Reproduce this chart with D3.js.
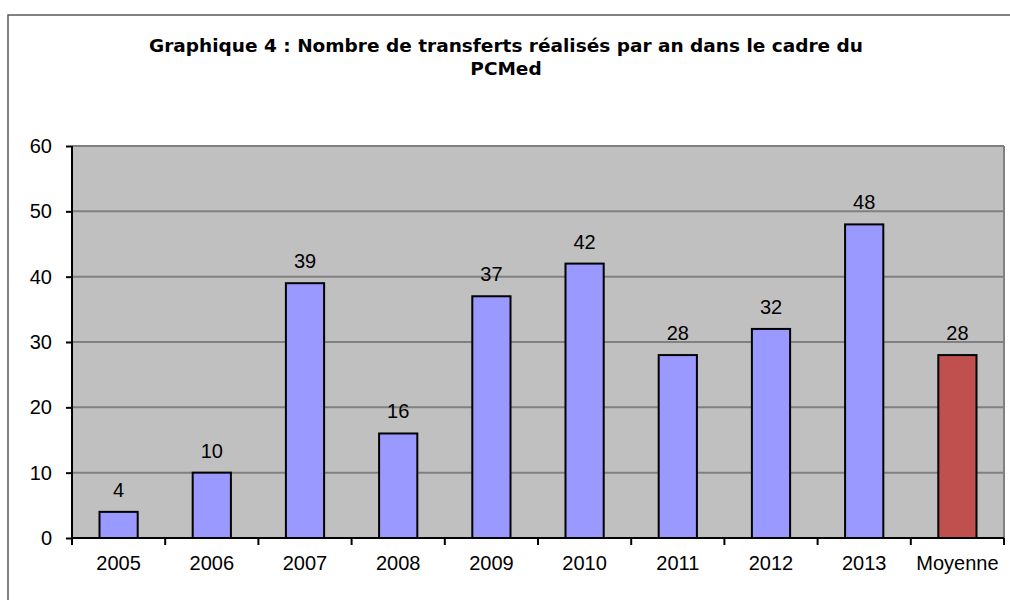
<!DOCTYPE html>
<html>
<head>
<meta charset="utf-8">
<script src="https://cdn.jsdelivr.net/npm/d3@7"></script>
<style>
  body { margin: 0; background: #fff; }
  svg { display: block; }
</style>
</head>
<body>
<div id="chart"></div>
<script>
const categories = ["2005", "2006", "2007", "2008", "2009", "2010", "2011", "2012", "2013", "Moyenne"];
const values = [4, 10, 39, 16, 37, 42, 28, 32, 48, 28];
const barColors = ["#9999ff", "#9999ff", "#9999ff", "#9999ff", "#9999ff", "#9999ff", "#9999ff", "#9999ff", "#9999ff", "#c0504d"];
const yTicks = [0, 10, 20, 30, 40, 50, 60];
const titleLines = ["Graphique 4 : Nombre de transferts réalisés par an dans le cadre du", "PCMed"];

const W = 1010, H = 600;
const margin = { top: 146, right: 6, bottom: 62, left: 72 };
const width = W - margin.left - margin.right;
const height = H - margin.top - margin.bottom;
const labelFont = "Arial, 'Liberation Sans', sans-serif";

const svg = d3.select("#chart").append("svg")
    .attr("width", W)
    .attr("height", H);

// outer frame
svg.append("rect")
    .attr("x", 8).attr("y", 15)
    .attr("width", W + 10).attr("height", H + 10)
    .attr("fill", "none")
    .attr("stroke", "#595959")
    .attr("stroke-width", 1.5);

// title
svg.append("g").selectAll("text")
    .data(titleLines)
    .enter().append("text")
    .attr("x", 506)
    .attr("y", (d, i) => 52 + i * 23)
    .attr("text-anchor", "middle")
    .style("font-family", "'DejaVu Sans', Verdana, sans-serif")
    .style("font-weight", "bold")
    .style("font-size", "18.5px")
    .text(d => d);

const g = svg.append("g")
    .attr("transform", `translate(${margin.left},${margin.top})`);

const x = d3.scaleBand()
    .domain(categories)
    .range([0, width])
    .paddingInner(0.59)
    .paddingOuter(0.295);

const xTicksScale = d3.scaleBand().domain(categories).range([0, width]);

const y = d3.scaleLinear()
    .domain([0, 60])
    .range([height, 0]);

// plot background
g.append("rect")
    .attr("width", width).attr("height", height)
    .attr("fill", "#c0c0c0");

// gridlines
g.append("g").selectAll("line")
    .data(yTicks.filter(d => d > 0))
    .enter().append("line")
    .attr("x1", 0).attr("x2", width)
    .attr("y1", d => y(d)).attr("y2", d => y(d))
    .attr("stroke", "#808080")
    .attr("stroke-width", 2);

// right border of plot area
g.append("line")
    .attr("x1", width).attr("x2", width)
    .attr("y1", 0).attr("y2", height)
    .attr("stroke", "#808080")
    .attr("stroke-width", 2);

// bars
g.append("g").selectAll("rect")
    .data(values)
    .enter().append("rect")
    .attr("x", (d, i) => x(categories[i]))
    .attr("y", d => y(d))
    .attr("width", x.bandwidth())
    .attr("height", d => y(0) - y(d))
    .attr("fill", (d, i) => barColors[i])
    .attr("stroke", "#000")
    .attr("stroke-width", 2);

// value labels
g.append("g").selectAll("text")
    .data(values)
    .enter().append("text")
    .attr("x", (d, i) => x(categories[i]) + x.bandwidth() / 2)
    .attr("y", d => y(d) - 15)
    .attr("text-anchor", "middle")
    .style("font-family", labelFont)
    .style("font-size", "20px")
    .text(d => d);

// y axis
const yAxis = g.append("g")
    .call(d3.axisLeft(y).tickValues(yTicks).tickSize(6).tickPadding(14));
yAxis.select(".domain").attr("stroke", "#000").attr("stroke-width", 2).attr("d", `M0,0V${height}`);
yAxis.selectAll(".tick line").attr("stroke", "#000").attr("stroke-width", 2);
yAxis.selectAll("text")
    .style("font-family", labelFont)
    .style("font-size", "20px")
    .attr("fill", "#000");

// x axis with ticks at category boundaries
const xAxis = g.append("g")
    .attr("transform", `translate(0,${height})`);
xAxis.append("line")
    .attr("x1", 0).attr("x2", width)
    .attr("stroke", "#000").attr("stroke-width", 2);
xAxis.selectAll(".xtick")
    .data(categories.concat(["end"]))
    .enter().append("line")
    .attr("class", "xtick")
    .attr("x1", (d, i) => i < categories.length ? xTicksScale(d) : width)
    .attr("x2", (d, i) => i < categories.length ? xTicksScale(d) : width)
    .attr("y1", 0).attr("y2", 7)
    .attr("stroke", "#000").attr("stroke-width", 2);
xAxis.selectAll(".xlabel")
    .data(categories)
    .enter().append("text")
    .attr("class", "xlabel")
    .attr("x", d => xTicksScale(d) + xTicksScale.bandwidth() / 2)
    .attr("y", 32)
    .attr("text-anchor", "middle")
    .style("font-family", labelFont)
    .style("font-size", "20px")
    .text(d => d);
</script>
</body>
</html>
